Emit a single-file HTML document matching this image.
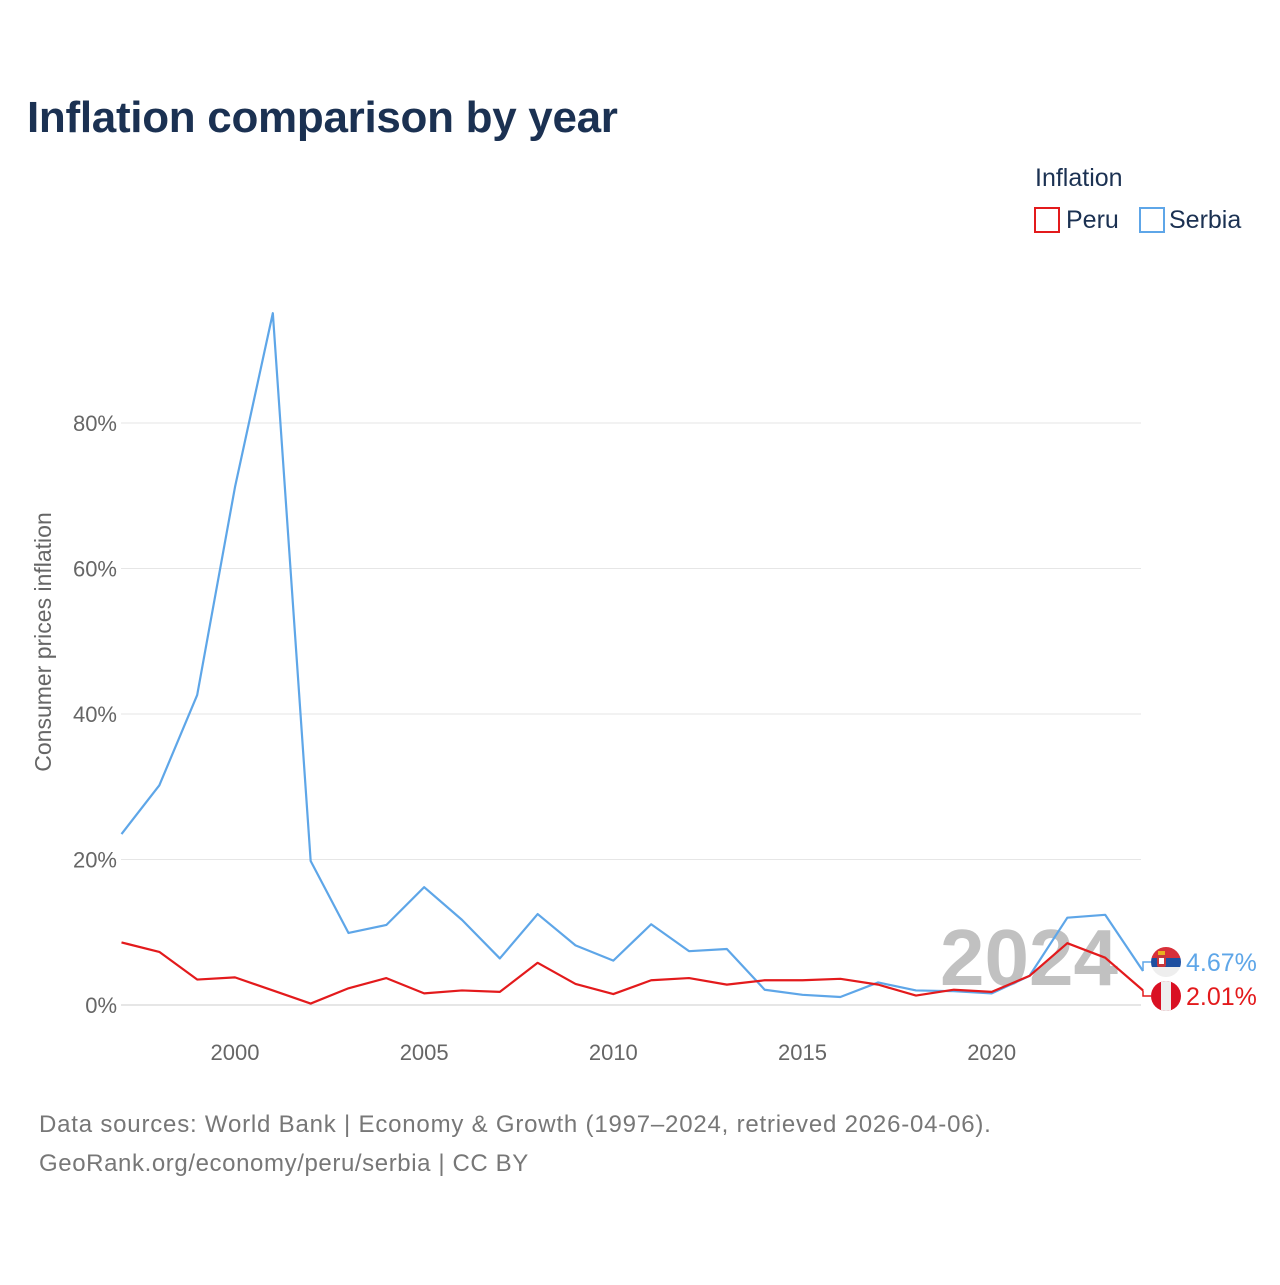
<!DOCTYPE html>
<html><head><meta charset="utf-8"><style>
body{margin:0;background:#fff;font-family:"Liberation Sans",sans-serif}
</style></head><body>
<svg id="chart" width="1280" height="1280" xmlns="http://www.w3.org/2000/svg">
<text x="27" y="132" font-size="44" font-weight="bold" fill="#1b3152" letter-spacing="-0.3">Inflation comparison by year</text>
<text x="1035" y="186" font-size="25" fill="#1b3152">Inflation</text>
<g><rect x="1035" y="208" width="24" height="24" fill="none" stroke="#e31a1c" stroke-width="2"/><text x="1066" y="228" font-size="25" fill="#1b3152">Peru</text></g>
<g><rect x="1140" y="208" width="24" height="24" fill="none" stroke="#5ea6e8" stroke-width="2"/><text x="1169" y="228" font-size="25" fill="#1b3152">Serbia</text></g>
<text transform="translate(51,642) rotate(-90)" text-anchor="middle" font-size="23" fill="#666">Consumer prices inflation</text>
<g id="grid"></g><g id="ticks"></g>
<text x="1118" y="985" text-anchor="end" font-size="80" font-weight="bold" fill="#bbb" opacity="0.9">2024</text>
<g id="lines"></g>
<text x="39" y="1132" font-size="24" fill="#777" letter-spacing="0.8">Data sources: World Bank | Economy &amp; Growth (1997–2024, retrieved 2026-04-06).</text>
<text x="39" y="1171" font-size="24" fill="#777" letter-spacing="0.6">GeoRank.org/economy/peru/serbia | CC BY</text>
</svg>
<script>
const years=[1997,1998,1999,2000,2001,2002,2003,2004,2005,2006,2007,2008,2009,2010,2011,2012,2013,2014,2015,2016,2017,2018,2019,2020,2021,2022,2023,2024];
const serbia=[23.5,30.2,42.6,71.2,95.1,19.8,9.9,11.0,16.2,11.7,6.4,12.5,8.2,6.1,11.1,7.4,7.7,2.1,1.4,1.1,3.1,2.0,1.9,1.6,4.0,12.0,12.4,4.67];
const peru=[8.6,7.3,3.5,3.8,2.0,0.2,2.3,3.7,1.6,2.0,1.8,5.8,2.9,1.5,3.4,3.7,2.8,3.4,3.4,3.6,2.8,1.3,2.1,1.8,4.0,8.5,6.5,2.01];
const yTicks=[0,20,40,60,80];
const xTicks=[2000,2005,2010,2015,2020];
const NS="http://www.w3.org/2000/svg";
const x=v=>121.5+(v-1997)*(1143-121.5)/27;
const y=v=>1005-v*7.275;
function mk(t,a,p){const e=document.createElementNS(NS,t);for(const k in a)e.setAttribute(k,a[k]);document.getElementById(p).appendChild(e);return e;}
yTicks.forEach(v=>{
 const l=mk('line',{x1:121,x2:1141,y1:y(v),y2:y(v),stroke:v===0?'#ccc':'#e6e6e6'},'grid');
 
 
 const t=mk('text',{x:117,y:y(v)+8,'text-anchor':'end','font-size':22,fill:'#666'},'ticks');t.textContent=v+'%';
 
 
});
xTicks.forEach(v=>{
 const t=mk('text',{x:x(v),y:1060,'text-anchor':'middle','font-size':22,fill:'#666'},'ticks');t.textContent=v;
 
 
});
function series(d,c,n){
 const p=mk('polyline',{points:d.map((v,i)=>x(years[i])+','+y(v)).join(' '),fill:'none',stroke:c,'stroke-width':2.2,'stroke-linejoin':'round'},'lines');
 
 
}
series(serbia,'#5ea6e8','serbia');
series(peru,'#e31a1c','peru');
function endLabel(v,c,n,ly,flag){
 const ex=x(2024),ey=y(v);
 mk('polyline',{points:`${ex},${ey} ${ex},${ly} ${ex+8},${ly}`,fill:'none',stroke:c,'stroke-width':1.5},'lines');
 const g=mk('g',{},'lines');
 
 
 g.innerHTML=flag(1166,ly);
 const t=mk('text',{x:1186,y:ly+9,'font-size':25,fill:c},'lines');t.textContent=v.toFixed(2)+'%';
 
 
}
endLabel(serbia[27],'#5ea6e8','serbia',962,(cx,cy)=>`<clipPath id="cs"><circle cx="${cx}" cy="${cy}" r="15"/></clipPath><g clip-path="url(#cs)"><rect x="${cx-15}" y="${cy-15}" width="30" height="11" fill="#d8303a"/><rect x="${cx-15}" y="${cy-4}" width="30" height="9" fill="#1e4fa0"/><rect x="${cx-15}" y="${cy+5}" width="30" height="10" fill="#eee"/><rect x="${cx-9}" y="${cy-7}" width="9" height="12" rx="2" fill="#c6363c"/><rect x="${cx-7}" y="${cy-4}" width="5" height="6" fill="#fff"/><rect x="${cx-8}" y="${cy-11}" width="7" height="4" fill="#e8b020"/></g>`);
endLabel(peru[27],'#e31a1c','peru',996,(cx,cy)=>`<clipPath id="cp"><circle cx="${cx}" cy="${cy}" r="15"/></clipPath><g clip-path="url(#cp)"><rect x="${cx-15}" y="${cy-15}" width="30" height="30" fill="#d91023"/><rect x="${cx-5}" y="${cy-15}" width="10" height="30" fill="#eee"/></g>`);
</script>
</body></html>
